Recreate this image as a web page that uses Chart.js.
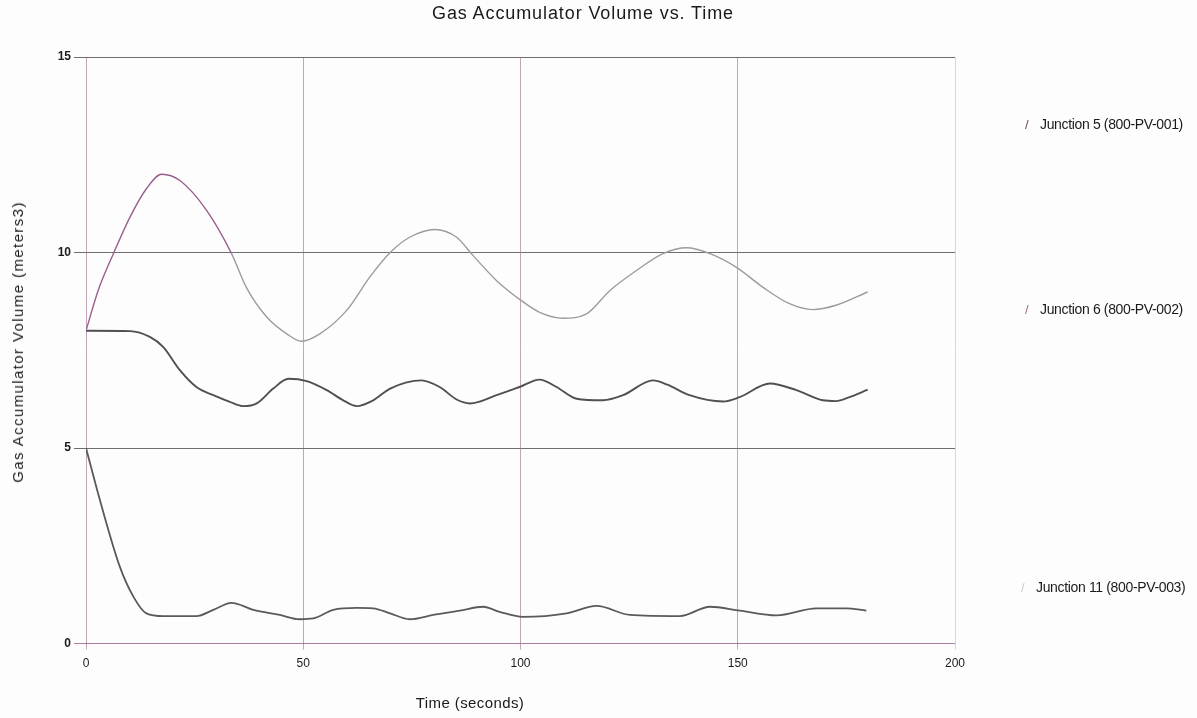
<!DOCTYPE html>
<html>
<head>
<meta charset="utf-8">
<script src="https://cdn.jsdelivr.net/npm/chart.js@4/dist/chart.umd.min.js"></script>
<style>
  html, body { margin: 0; padding: 0; background: #fdfdfd; }
  #wrap { position: relative; width: 1197px; height: 718px; font-family: "Liberation Sans", Arial, sans-serif; }
  canvas { position: absolute; left: 0; top: 0; }
  .t { position: absolute; color: #1a1a1a; white-space: nowrap; }
  #title { left: 583px; top: 3px; transform: translateX(-50%); font-size: 18px; letter-spacing: 0.9px; }
  #xtitle { left: 470px; top: 694px; transform: translateX(-50%); font-size: 15px; letter-spacing: 0.4px; }
  #ytitle { left: 9px; top: 342px; writing-mode: vertical-rl; transform: translateY(-50%) rotate(180deg); font-size: 15px; letter-spacing: 1.4px; }
  .leg { position: absolute; font-size: 14px; color: #1a1a1a; letter-spacing: -0.35px; white-space: nowrap; }
  .leg span { display: inline-block; width: 15px; font-size: 13px; }
</style>
</head>
<body>
<div id="wrap">
  <canvas id="c" width="1197" height="718"></canvas>
  <div class="t" id="title">Gas Accumulator Volume vs. Time</div>
  <div class="t" id="xtitle">Time (seconds)</div>
  <div class="t" id="ytitle">Gas Accumulator Volume (meters3)</div>
  <div class="leg" style="left:1025px; top:116px;"><span style="color:#6b4a5e">/</span>Junction 5 (800-PV-001)</div>
  <div class="leg" style="left:1025px; top:301px;"><span style="color:#a06a90">/</span>Junction 6 (800-PV-002)</div>
  <div class="leg" style="left:1021px; top:579px;"><span style="color:#cccccc">/</span>Junction 11 (800-PV-003)</div>
</div>
<script>
const seriesNames = ["Junction 5 (800-PV-001)", "Junction 6 (800-PV-002)", "Junction 11 (800-PV-003)"];

const j5Time = [0, 2.8, 6.3, 10.1, 13.9, 17.4, 21.6, 27.8, 33.5, 36.9, 41.6, 46.2, 49.6, 53.8, 60, 65.3, 70, 74.5, 80.3, 85.3, 89.1, 94.5, 100.2, 104.4, 109.8, 115.2, 120.6, 126.7, 132.8, 138.2, 143.6, 149.7, 155.8, 161.9, 167.3, 172.6, 179.9];
const j5Vol  = [8.0, 9.03, 9.97, 10.9, 11.63, 12.0, 11.84, 11.07, 9.97, 9.11, 8.35, 7.92, 7.73, 7.92, 8.52, 9.37, 10.0, 10.39, 10.59, 10.39, 9.92, 9.28, 8.77, 8.47, 8.32, 8.43, 9.03, 9.54, 9.97, 10.12, 9.97, 9.62, 9.11, 8.69, 8.54, 8.65, 8.99];

const j6Time = [0, 10.1, 14.7, 17.8, 21.6, 25.4, 29.3, 33.1, 36.2, 39.3, 43.1, 46.6, 50.8, 55.4, 59.2, 62.3, 66.1, 70, 77.2, 81.4, 85.3, 88.4, 94.5, 99.8, 104.4, 108.3, 112.9, 119, 123.6, 130.5, 133.8, 138.9, 146.6, 150.4, 157.4, 163.5, 169.6, 172.6, 175.7, 179.9];
const j6Vol  = [8.0, 7.99, 7.84, 7.58, 6.99, 6.56, 6.35, 6.18, 6.07, 6.14, 6.52, 6.77, 6.71, 6.48, 6.22, 6.07, 6.22, 6.52, 6.73, 6.56, 6.24, 6.14, 6.35, 6.56, 6.75, 6.56, 6.26, 6.22, 6.35, 6.73, 6.62, 6.35, 6.19, 6.3, 6.65, 6.48, 6.22, 6.2, 6.3, 6.49];

const j11Time = [0, 3.2, 7.8, 10.9, 13.9, 17.8, 25.4, 29.3, 33.5, 38.5, 44.6, 49.2, 52.3, 56.9, 62.3, 66.1, 70, 74.5, 79.9, 86, 91.4, 95.2, 100.6, 110.6, 117.5, 125.2, 136.7, 143.6, 150.5, 158.9, 168.1, 175, 179.6];
const j11Vol  = [5.0, 3.67, 1.96, 1.2, 0.77, 0.7, 0.7, 0.86, 1.04, 0.86, 0.73, 0.62, 0.64, 0.86, 0.91, 0.9, 0.77, 0.62, 0.73, 0.84, 0.94, 0.81, 0.68, 0.77, 0.96, 0.73, 0.7, 0.94, 0.84, 0.72, 0.9, 0.9, 0.84];

const xTicks = [0, 50, 100, 150, 200];
const yTicks = [0, 5, 10, 15];

function pts(t, v) { return t.map((x, i) => ({ x: x, y: v[i] })); }

const common = { pointRadius: 0, fill: false, cubicInterpolationMode: 'monotone', tension: 0.4 };

new Chart(document.getElementById('c'), {
  type: 'line',
  data: {
    datasets: [
      Object.assign({
        label: seriesNames[0], data: pts(j5Time, j5Vol),
        borderColor: '#9c9c9c', borderWidth: 1.4,
        segment: { borderColor: ctx => ctx.p0.parsed.x < 33 ? '#9a5f8c' : '#9c9c9c' }
      }, common),
      Object.assign({ label: seriesNames[1], data: pts(j6Time, j6Vol), borderColor: '#505050', borderWidth: 1.9 }, common),
      Object.assign({ label: seriesNames[2], data: pts(j11Time, j11Vol), borderColor: '#5a5a5a', borderWidth: 1.8 }, common)
    ]
  },
  options: {
    responsive: false,
    animation: false,
    layout: { padding: { top: 57, right: 242, left: 0, bottom: 0 } },
    plugins: { legend: { display: false }, tooltip: { enabled: false }, title: { display: false } },
    scales: {
      x: {
        type: 'linear', min: 0, max: 200,
        afterBuildTicks: s => { s.ticks = xTicks.map(v => ({ value: v })); },
        afterFit: s => { s.height = 74.5; },
        grid: {
          color: ctx => ctx.tick && ctx.tick.value === 200 ? '#d8d8d8' : 'rgba(175,135,160,0.75)',
          lineWidth: 1, tickLength: 6, drawTicks: true
        },
        border: { display: false },
        ticks: { color: '#1a1a1a', font: { family: 'Liberation Sans', size: 12 }, padding: 7, maxRotation: 0 }
      },
      y: {
        type: 'linear', min: 0, max: 15,
        afterBuildTicks: s => { s.ticks = yTicks.map(v => ({ value: v })); },
        afterFit: s => { s.width = 86; },
        grid: {
          color: ctx => ctx.tick && ctx.tick.value === 0 ? 'rgba(150,95,135,0.8)' : '#6e6e6e',
          lineWidth: 1, tickLength: 12
        },
        border: { display: false },
        ticks: { color: '#1a1a1a', font: { family: 'Liberation Sans', size: 12, weight: 'bold' }, padding: 3 }
      }
    }
  }
});
</script>
</body>
</html>
